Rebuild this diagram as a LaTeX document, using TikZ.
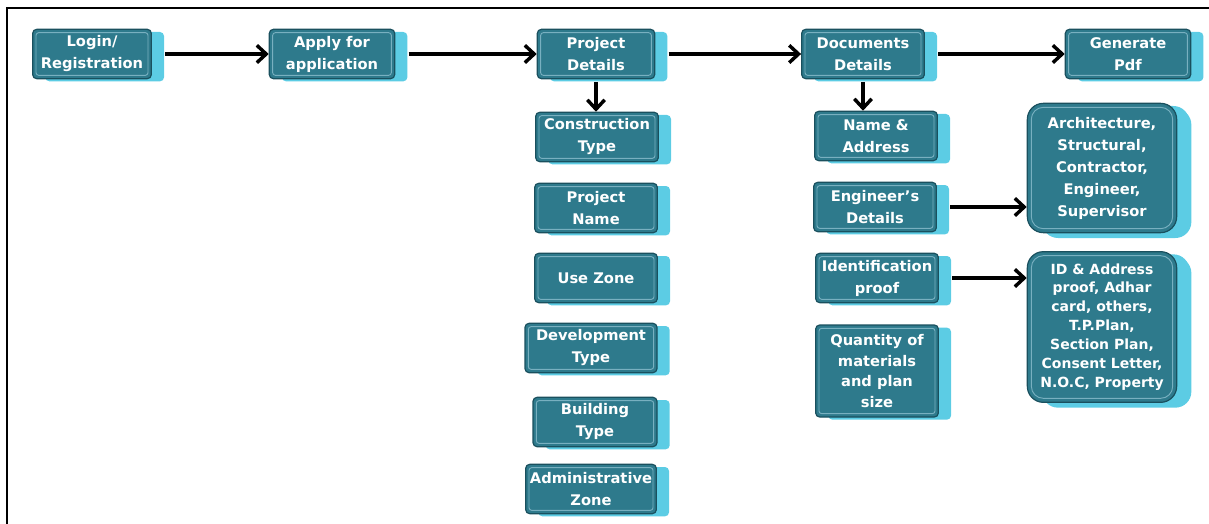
\documentclass[tikz,border=0pt]{standalone}
\usepackage{fontspec}
\setmainfont{DejaVu Sans}
\usetikzlibrary{arrows.meta}

\definecolor{btnface}{RGB}{46,122,140}
\definecolor{btnedge}{RGB}{26,80,94}
\definecolor{btnside}{RGB}{92,204,228}
\definecolor{btnline}{RGB}{120,176,192}

\tikzset{
  btn/.style={rectangle, rounded corners=3pt, fill=btnface, draw=btnedge,
    line width=0.9pt, text=white, align=center, inner sep=1.5pt,
    font=\fontsize{11}{16.5}\selectfont\bfseries,
    minimum width=#1, minimum height=37pt,
    preaction={fill=btnside, rounded corners=5pt,
      transform canvas={xshift=9.5pt,yshift=-2pt}},
    path picture={\draw[btnline, line width=0.7pt, rounded corners=2pt]
      ([shift={(2.5pt,-2.5pt)}]path picture bounding box.north west) rectangle
      ([shift={(-2.5pt,2.5pt)}]path picture bounding box.south east);}},
  btn/.default=92pt,
  bigbtn/.style={btn=112pt, rounded corners=12pt,
    preaction={fill=btnside, transform canvas={xshift=11pt,yshift=-4pt}},
    path picture={\draw[btnline, line width=0.7pt, rounded corners=9pt]
      ([shift={(3pt,-3pt)}]path picture bounding box.north west) rectangle
      ([shift={(-3pt,3pt)}]path picture bounding box.south east);}},
  flow/.style={line width=2.6pt, shorten <=10pt,
    -{Straight Barb[length=7pt,width=13pt]}},
  drop/.style={line width=2.6pt, shorten <=2pt,
    -{Straight Barb[length=7pt,width=13pt]}}
}

\begin{document}
\begin{tikzpicture}[x=0.75pt,y=-0.75pt]
  \useasboundingbox (0,0) rectangle (1209,524);
  \draw[line width=2.2pt] (7,524) -- (7,8) -- (1209,8);

  \node[btn=89pt] (login) at (92,54) {Login/\\Registration};
  \node[btn=94pt] (apply) at (332,54) {Apply for\\application};
  \node[btn=88pt] (projdet) at (596,54) {Project\\Details};
  \node[btn=92pt] (docdet) at (863,54) {Documents\\Details};
  \node[btn=94pt] (genpdf) at (1128,54) {Generate\\Pdf};

  \node[btn] (constype) at (597,137) {Construction\\Type};
  \node[btn] (projname) at (596,208) {Project\\Name};
  \node[btn] (usezone) at (596,278) {Use Zone};
  \node[btn=99pt] (devtype) at (591,348) {Development\\Type};
  \node[btn=93pt] (buildtype) at (595,422) {Building\\Type};
  \node[btn=98pt] (adminzone) at (591,489) {Administrative\\Zone};

  \node[btn] (nameaddr) at (876,136) {Name \&\\Address};
  \node[btn] (engdet) at (875,207) {Engineer’s\\Details};
  \node[btn] (idproof) at (877,278) {Identification\\proof};
  \node[btn, minimum height=69pt, font=\fontsize{11}{15.4}\selectfont\bfseries]
    (quantity) at (877,371) {Quantity of\\materials\\and plan\\size};

  \node[bigbtn, minimum height=97pt] (engtypes) at (1102,168)
    {Architecture,\\Structural,\\Contractor,\\Engineer,\\Supervisor};
  \node[bigbtn, minimum height=113pt, font=\fontsize{10.5}{14.2}\selectfont\bfseries]
    (proofs) at (1102,327)
    {ID \& Address\\proof, Adhar\\card, others,\\T.P.Plan,\\Section Plan,\\Consent Letter,\\N.O.C, Property};

  \draw[flow] (login.east) -- (apply.west);
  \draw[flow] (apply.east) -- (projdet.west);
  \draw[flow] (projdet.east) -- (docdet.west);
  \draw[flow] (docdet.east) -- (genpdf.west);

  \draw[drop] (projdet.south) -- (projdet.south |- constype.north);
  \draw[drop] (docdet.south) -- (docdet.south |- nameaddr.north);

  \draw[flow] (engdet.east) -- (engdet.east -| engtypes.west);
  \draw[flow] (idproof.east) -- (idproof.east -| proofs.west);
\end{tikzpicture}
\end{document}
